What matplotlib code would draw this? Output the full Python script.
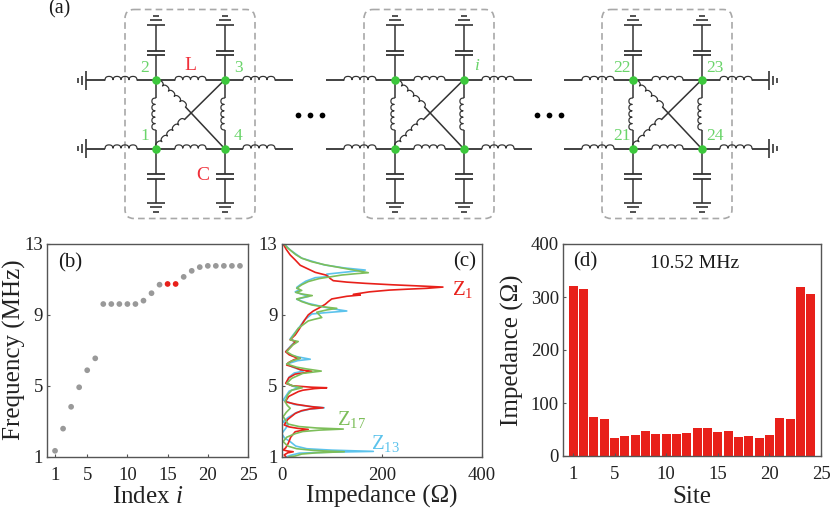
import numpy as np
import matplotlib
matplotlib.use('Agg')
import matplotlib.pyplot as plt
from matplotlib.patches import FancyBboxPatch

plt.rcParams['font.family'] = ['Liberation Serif', 'DejaVu Serif']
plt.rcParams['mathtext.fontset'] = 'custom'
plt.rcParams['mathtext.rm'] = 'Liberation Serif'
plt.rcParams['mathtext.it'] = 'Liberation Serif:italic'

# ---------- data ----------
index_i = list(range(1, 25))
freq_mhz = [1.32, 2.57, 3.8, 4.9, 5.86, 6.53, 9.59, 9.59, 9.59, 9.59, 9.59, 9.78,
            10.2, 10.68, 10.72, 10.72, 11.12, 11.46, 11.67, 11.74, 11.74, 11.74, 11.74, 11.74]
red_idx = [15, 16]

z1_f = [13, 12.7, 12.38, 12.1, 11.8, 11.6, 11.4, 11.25, 11.16, 11.05, 10.93, 10.85, 10.78, 10.7, 10.62,
        10.57, 10.5, 10.45, 10.4, 10.3, 10.16, 10.12, 10.05, 9.9, 9.75, 9.6, 9.4, 9.22, 9.0, 8.8,
        8.58, 8.2, 7.87, 7.6, 7.5, 7.2, 6.92, 6.75, 6.6, 6.55, 6.48, 6.3, 6.17, 6.05, 5.9,
        5.82, 5.72, 5.66, 5.45, 5.14, 5.0, 4.92, 4.89, 4.84, 4.75, 4.67, 4.4, 4.1, 3.95, 3.82,
        3.76, 3.7, 3.6, 3.44, 3.1, 2.79, 2.68, 2.6, 2.54, 2.47, 2.41, 2.1, 1.75, 1.5, 1.38,
        1.32, 1.28, 1.22, 1.1, 1.04, 1]
z1_v = [3, 9, 17, 27, 37, 52, 67, 88, 93, 97, 103, 130, 167, 220, 285,
        322, 290, 250, 215, 175, 143, 157, 130, 100, 93, 87, 75, 63, 53, 48,
        43, 35, 27, 17, 28, 18, 8, 15, 28, 37, 25, 13, 10, 25, 38,
        60, 42, 27, 14, 8, 22, 60, 90, 65, 42, 33, 14, 7, 30, 60,
        83, 58, 40, 27, 12, 5, 15, 32, 53, 38, 27, 18, 13, 8, 3,
        12, 23, 12, 5, 7, 8]
z17_f = [13, 12.8, 12.66, 12.4, 12.2, 12.0, 11.82, 11.65, 11.5, 11.38, 11.33, 11.25, 11.16, 11.05, 10.88,
         10.7, 10.5, 10.38, 10.27, 10.18, 10.09, 10.0, 9.9, 9.75, 9.56, 9.45, 9.37, 9.28, 9.15, 9.0,
         8.85, 8.75, 8.66, 8.24, 7.9, 7.59, 7.5, 7.3, 6.92, 6.75, 6.55, 6.4, 6.23, 6.05, 5.95,
         5.83, 5.7, 5.42, 5.14, 5.0, 4.89, 4.75, 4.5, 4.1, 3.9, 3.73, 3.5, 3.26, 2.84, 2.7,
         2.62, 2.56, 2.5, 2.42, 2.3, 2.1, 1.85, 1.6, 1.45, 1.35, 1.28, 1.22, 1.15, 1.04, 1]
z17_v = [5, 11, 17, 28, 40, 60, 87, 120, 150, 173, 150, 120, 100, 75, 53,
         40, 30, 40, 28, 40, 61, 45, 30, 40, 60, 85, 110, 90, 70, 75,
         80, 65, 53, 33, 25, 17, 33, 22, 10, 20, 37, 20, 10, 30, 50,
         79, 42, 20, 10, 22, 41, 20, 12, 7, 11, 17, 9, 3, 13, 35,
         70, 123, 75, 42, 27, 10, 3, 12, 30, 65, 125, 70, 40, 27, 15]
z13_f = [13, 12.66, 12.2, 11.82, 11.65, 11.53, 11.42, 11.3, 11.16, 11.1, 10.9, 10.7, 10.55, 10.42, 10.3,
         10.15, 10.05, 9.88, 9.65, 9.52, 9.35, 9.22, 9.12, 9.05, 8.7, 8.3, 7.95, 7.65, 7.5, 7.25,
         6.92, 6.7, 6.58, 6.5, 6.42, 6.23, 6.05, 5.92, 5.83, 5.72, 5.5, 5.14, 5.0, 4.89, 4.7,
         4.2, 3.95, 3.84, 3.76, 3.68, 3.5, 3.2, 2.97, 2.8, 2.6, 2.3, 2.05, 1.85, 1.6, 1.45,
         1.37, 1.3, 1.25, 1.2, 1.08, 1]
z13_v = [5, 17, 40, 85, 125, 167, 130, 90, 93, 67, 48, 37, 30, 36, 27,
         42, 55, 30, 53, 73, 100, 130, 85, 60, 45, 35, 25, 17, 27, 18,
         8, 20, 42, 57, 32, 10, 22, 35, 43, 25, 15, 10, 20, 33, 15,
         3, 25, 55, 85, 55, 30, 12, 3, 13, 8, 0, 6, 17, 28, 50,
         100, 183, 90, 35, 18, 10]

sites = list(range(1, 25))
site_imp = [320, 316, 74, 70, 34, 37, 40, 47, 42, 41, 42, 44, 52, 52, 45, 47, 36, 38, 34, 39, 72, 69, 318, 305]

# ---------- styles ----------
W, H = 830, 508
C_RED = '#E8201A'
C_GREEN = '#7DBE5A'
C_BLUE = '#5CC3EC'
C_NODE = '#3CC83C'
C_LAB = '#6AD46A'
C_GRAY = '#999999'
C_AX = '#555555'
C_TXT = '#222222'
TICK = 13.5
LABEL = 18

fig = plt.figure(figsize=(W / 100, H / 100), dpi=100)


def px_axes(l, t, r, b):
    return fig.add_axes([l / W, 1 - b / H, (r - l) / W, (b - t) / H])


def style(ax):
    for s in ax.spines.values():
        s.set_color(C_AX)
        s.set_linewidth(1.0)
    ax.tick_params(direction='in', length=2.5, width=0.8, color=C_AX, labelcolor=C_TXT,
                   labelsize=TICK)
    ax.tick_params(axis='x', pad=7.5)
    ax.tick_params(axis='y', pad=3)


def set_labels(ax, xlabel, xlab_y, ylabel=None, ylab_x=None):
    """Place axis labels at given figure-pixel positions (centres)."""
    box = ax.get_position()
    ax.set_xlabel(xlabel, fontsize=LABEL, color=C_TXT, va='center')
    ax.xaxis.set_label_coords(0.5, ((1 - xlab_y / H) - box.y0) / box.height)
    if ylabel:
        ax.set_ylabel(ylabel, fontsize=LABEL, color=C_TXT, va='center')
        ax.yaxis.set_label_coords((ylab_x / W - box.x0) / box.width, 0.5)


# ---------- schematic overlay ----------
ov = fig.add_axes([0, 0, 1, 1], zorder=5)
ov.set_xlim(0, W)
ov.set_ylim(H, 0)
ov.axis('off')
ov.patch.set_alpha(0)
LW = 1.1
WC = '#333333'


def wire(x0, y0, x1, y1, lw=LW):
    ov.plot([x0, x1], [y0, y1], color=WC, lw=lw, solid_capstyle='butt')


def coil(x0, y0, x1, y1, n=4, amp=3.6):
    p0, p1 = np.array([x0, y0], float), np.array([x1, y1], float)
    d = p1 - p0
    L = np.hypot(*d)
    u = d / L
    v = np.array([u[1], -u[0]])
    if v[1] > 1e-9 or (abs(v[1]) < 1e-9 and v[0] > 0):
        v = -v
    t = np.linspace(0, 1, 400)
    along = t * L - 0.06 * (L / n) * np.sin(2 * np.pi * n * t)
    across = amp * np.abs(np.sin(np.pi * n * t)) ** 0.5
    pts = p0[None, :] + along[:, None] * u + across[:, None] * v
    ov.plot(pts[:, 0], pts[:, 1], color=WC, lw=LW * 0.8, solid_joinstyle='round')


def ground_v(x, y, sgn):
    for k, hw in enumerate([9, 6, 3]):
        yy = y + sgn * k * 4.3
        wire(x - hw, yy, x + hw, yy, 1.2)


def ground_h(x, y, sgn):
    for k, hw in enumerate([9.5, 4.5, 2.5]):
        xx = x + sgn * k * 4.2
        wire(xx, y - hw, xx, y + hw, 1.2)


def cell(dx, left_gnd=False, right_gnd=False):
    xa, xb = 155.5 + dx, 224.5 + dx
    yt, yb = 80, 148.5
    ov.add_patch(FancyBboxPatch((125 + dx + 8, 9.5 + 8), 130 - 16, 209 - 16,
                                boxstyle='round,pad=8,rounding_size=9',
                                fc='none', ec='#A8A8A8', lw=1.2, ls=(0, (4, 2.5)), zorder=1))
    for y in (yt, yb):
        if left_gnd:
            wire(86 + dx, y, 105 + dx, y, 1.3)
            ground_h(86 + dx, y, -1)
        else:
            wire(87 + dx, y, 105 + dx, y, 1.3)
        coil(105 + dx, y, 137 + dx, y)
        wire(137 + dx, y, xa, y, 1.3)
        wire(xa, y, 175 + dx, y, 1.3)
        coil(175 + dx, y, 206 + dx, y)
        wire(206 + dx, y, xb, y, 1.3)
        wire(xb, y, 243 + dx, y, 1.3)
        coil(243 + dx, y, 275 + dx, y)
        if right_gnd:
            wire(275 + dx, y, 292 + dx, y, 1.3)
            ground_h(292 + dx, y, 1)
        else:
            wire(275 + dx, y, 293 + dx, y, 1.3)
    for x in (xa, xb):
        wire(x, yt, x, 55)
        wire(x - 9, 55, x + 9, 55, 1.3)
        wire(x - 9, 50.5, x + 9, 50.5, 1.3)
        wire(x, 50.5, x, 24.5)
        ground_v(x, 24.5, -1)
        wire(x, yb, x, 174)
        wire(x - 9, 174, x + 9, 174, 1.3)
        wire(x - 9, 179, x + 9, 179, 1.3)
        wire(x, 179, x, 203)
        ground_v(x, 203, 1)
        wire(x, yt, x, 98)
        coil(x, 98, x, 130, n=5)
        wire(x, 130, x, yb)
    coil(xa + 1, yt + 1, xa + 30, yt + 27, n=5, amp=3.2)
    wire(xa + 30, yt + 27, xb, yb)
    coil(xa + 1, yb - 1, xa + 29, yb - 29, n=5, amp=3.2)
    wire(xa + 29, yb - 29, xb, yt)
    ov.scatter([xa, xa, xb, xb], [yt, yb, yb, yt], s=38, color=C_NODE, zorder=6, linewidths=0)


DX2, DX3 = 239, 477
cell(0, left_gnd=True)
cell(DX2)
cell(DX3, right_gnd=True)
for x0 in (298, 537):
    ov.scatter([x0, x0 + 12, x0 + 24], [114.5] * 3, s=17, color='black', linewidths=0, zorder=6)


def label(x, y, s, color=C_TXT, size=12, **kw):
    ov.text(x, y, s, color=color, fontsize=size, ha='center', va='center', **kw)


for dx, names, sz in ((0, ('2', '3', '1', '4'), 12.5), (DX3, ('22', '23', '21', '24'), 12.5)):
    label(145 + dx, 67.5, names[0], C_LAB, sz)
    label(238 + dx, 67.5, names[1], C_LAB, sz)
    label(144.5 + dx, 135.5, names[2], C_LAB, sz)
    label(238 + dx, 136, names[3], C_LAB, sz)
label(476.5, 66, 'i', C_LAB, 12.5, style='italic')
label(190.5, 65, 'L', '#F0303A', 14)
label(203, 176, 'C', '#F0303A', 14)
label(59, 9, '(a)', '#1a1a1a', 14.5)
label(70, 263, '(b)', '#1a1a1a', 15)
label(465, 262, '(c)', '#1a1a1a', 15)
label(585, 262, '(d)', '#1a1a1a', 15)
label(695, 263, '10.52 MHz', '#1a1a1a', 14)
label(463, 290, r'Z$_{1}$', C_RED, 15)
label(352, 419, r'Z$_{17}$', C_GREEN, 15)
label(385, 443, r'Z$_{13}$', C_BLUE, 15)

# ---------- (b) ----------
ax = px_axes(47, 243.5, 248, 456.5)
style(ax)
cols = [C_RED if i in red_idx else C_GRAY for i in index_i]
ax.scatter(index_i, freq_mhz, s=17, c=cols, linewidths=0, zorder=3)
ax.set_xlim(0, 25)
ax.set_ylim(1, 13)
ax.set_xticks([1, 5, 10, 15, 20, 25])
ax.set_yticks([1, 5, 9, 13])
set_labels(ax, r'Index $i$', 497, 'Frequency (MHz)', 14)

# ---------- (c) ----------
ax = px_axes(281.7, 244, 482, 456.7)
style(ax)
ax.plot(z13_v, z13_f, color=C_BLUE, lw=1.2)
ax.plot(z1_v, z1_f, color=C_RED, lw=1.2)
ax.plot(z17_v, z17_f, color=C_GREEN, lw=1.2)
ax.set_xlim(0, 400)
ax.set_ylim(1, 13)
ax.set_xticks([0, 200, 400])
ax.set_yticks([1, 5, 9, 13])
set_labels(ax, 'Impedance (Ω)', 496)

# ---------- (d) ----------
ax = px_axes(563, 244, 821, 456)
style(ax)
ax.bar(sites, site_imp, width=0.87, color=C_RED, linewidth=0)
ax.set_xlim(0, 25)
ax.set_ylim(0, 400)
ax.set_xticks([1, 5, 10, 15, 20, 25])
ax.set_yticks([0, 100, 200, 300, 400])
set_labels(ax, 'Site', 497, 'Impedance (Ω)', 512)

fig.savefig('out.png', dpi=100)
